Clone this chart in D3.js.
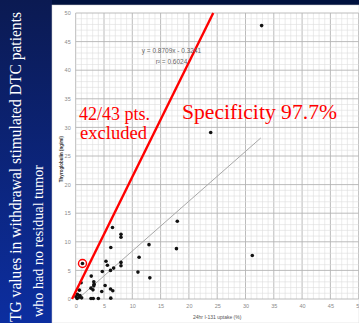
<!DOCTYPE html>
<html>
<head>
<meta charset="utf-8">
<script src="https://cdn.jsdelivr.net/npm/d3@7"></script>
<style>
  html, body { margin: 0; padding: 0; background: #00113e; }
  svg { display: block; }
</style>
</head>
<body>
<div id="chart-container"></div>
<script>
// 24hr I-131 uptake (%) vs stimulated thyroglobulin (ng/ml)
const uptake = [6.5, 8.0, 8.0, 6.2, 12.95, 17.95, 17.8, 11.2, 5.35, 5.6, 8.0, 8.0, 6.7, 6.15, 4.7,
  11.0, 13.1, 2.75, 3.2, 3.25, 3.2, 5.2, 2.7, 3.05, 4.6, 6.15, 6.55, 0.95, 0.65, 0.3, 0.75,
  0.05, 0.6, 1.05, 2.7, 3.1, 4.0, 6.2, 1.2, 32.85, 23.85, 31.2, 0.25];
const thyroglobulin = [12.5, 11.3, 10.8, 9.0, 9.5, 13.6, 8.8, 7.3, 6.6, 5.9, 6.4, 5.8, 5.4, 5.0, 4.8,
  4.7, 3.7, 4.0, 3.0, 2.6, 2.3, 2.35, 1.9, 1.6, 1.3, 1.75, 1.45, 2.85, 1.55, 0.8, 0.6,
  0.4, 0.3, 0.2, 0.1, 0.1, 0.1, 0.15, 6.2, 47.8, 29.1, 7.6, 0.1];
const circledIndex = 38;

const xTicks = [0, 5, 10, 15, 20, 25, 30, 35, 40, 45, 50];
const yTicks = [0, 5, 10, 15, 20, 25, 30, 35, 40, 45, 50];

// linear trendline from the chart: y = 0.8709x - 0.3241
const trendSlope = 0.8709;
const trendIntercept = -0.3241;
const trendX = [0.37, 32.7];

// hand drawn cut-off line
const cutX = [-0.65, 24.3];
const cutY = [0, 50];

const W = 359, H = 323;
const svg = d3.select("#chart-container").append("svg")
  .attr("width", W).attr("height", H);

const defs = svg.append("defs");
const grad = defs.append("linearGradient").attr("id", "sideGrad")
  .attr("x1", 0).attr("y1", 0).attr("x2", 0).attr("y2", 1);
grad.append("stop").attr("offset", "0%").attr("stop-color", "#0b1a52");
grad.append("stop").attr("offset", "100%").attr("stop-color", "#0c2ea0");

svg.append("rect").attr("width", W).attr("height", H).attr("fill", "#00113e");
svg.append("rect").attr("x", 0).attr("y", 0).attr("width", 52).attr("height", H)
  .attr("fill", "url(#sideGrad)");

// white chart panel
svg.append("rect").attr("x", 52).attr("y", 5).attr("width", W - 52).attr("height", H - 5)
  .attr("fill", "#ffffff").attr("stroke", "#d0d0d0").attr("stroke-width", 0.5);

const x = d3.scaleLinear().domain([0, 50]).range([75.7, 358.7]);
const y = d3.scaleLinear().domain([0, 50]).range([299, 13]);

// grid: minor every 1, major every 5
const g = svg.append("g");
const minor = d3.range(0, 51);
g.selectAll("line.vx").data(minor).join("line")
  .attr("x1", d => x(d)).attr("x2", d => x(d))
  .attr("y1", y(0)).attr("y2", y(50))
  .attr("stroke", d => d % 5 === 0 ? "#b4b4b4" : "#dedede")
  .attr("stroke-width", d => d % 5 === 0 ? 0.9 : 0.6);
g.selectAll("line.hy").data(minor).join("line")
  .attr("y1", d => y(d)).attr("y2", d => y(d))
  .attr("x1", x(0)).attr("x2", x(50))
  .attr("stroke", d => d % 5 === 0 ? "#b4b4b4" : "#dedede")
  .attr("stroke-width", d => d % 5 === 0 ? 0.9 : 0.6);

// axes
const xAxis = svg.append("g").attr("transform", `translate(0,${y(0) + 2})`)
  .call(d3.axisBottom(x).tickValues(xTicks).tickSize(0).tickPadding(3));
const yAxis = svg.append("g").attr("transform", `translate(${x(0) - 4},0)`)
  .call(d3.axisLeft(y).tickValues(yTicks).tickSize(0).tickPadding(1));
[xAxis, yAxis].forEach(a => {
  a.select(".domain").remove();
  a.selectAll("text").attr("fill", "#8a8a8a").style("font-family", "Arial, Liberation Sans, sans-serif")
    .style("font-size", "5.5px");
});

svg.append("text").attr("x", (x(0) + x(50)) / 2).attr("y", 319)
  .attr("text-anchor", "middle").attr("fill", "#555")
  .style("font-family", "Liberation Sans, sans-serif").style("font-size", "5px")
  .text("24hr I-131 uptake (%)");
svg.append("text").attr("transform", `translate(63,159) rotate(-90)`)
  .attr("text-anchor", "middle").attr("fill", "#333").attr("font-weight", "bold")
  .style("font-family", "Liberation Sans, sans-serif").style("font-size", "4.5px")
  .text("Thyroglobulin (ng/ml)");

// trendline
const trendLine = d3.line().x(d => x(d)).y(d => y(trendSlope * d + trendIntercept));
svg.append("path").datum(trendX).attr("d", trendLine)
  .attr("fill", "none").attr("stroke", "#a8a8a8").attr("stroke-width", 1);

// points
svg.selectAll("circle.pt").data(uptake).join("circle")
  .attr("cx", d => x(d)).attr("cy", (d, i) => y(thyroglobulin[i]))
  .attr("r", 1.8).attr("fill", "#111");

// red cut-off line
svg.append("path").datum(d3.zip(cutX, cutY))
  .attr("d", d3.line().x(d => x(d[0])).y(d => y(d[1])))
  .attr("fill", "none").attr("stroke", "#ff0000").attr("stroke-width", 2.4);

// red circle around the excluded point
svg.append("circle")
  .attr("cx", x(uptake[circledIndex])).attr("cy", y(thyroglobulin[circledIndex]))
  .attr("r", 4).attr("fill", "none").attr("stroke", "#ff0000").attr("stroke-width", 1.4);

// equation label
const eq = svg.append("g").attr("fill", "#666")
  .style("font-family", "Liberation Sans, sans-serif").style("font-size", "6.5px")
  .attr("text-anchor", "middle");
eq.append("text").attr("x", 171.5).attr("y", 53).text("y = 0.8709x - 0.3241");
eq.append("text").attr("x", 171.5).attr("y", 64).text("r² = 0.6024");

// red annotations
const ann = svg.append("g").attr("fill", "#ff0000")
  .style("font-family", "Liberation Serif, Times New Roman, serif").style("font-size", "19px")
  .attr("lengthAdjust", "spacingAndGlyphs");
ann.append("text").attr("x", 79).attr("y", 120).attr("textLength", 71)
  .attr("lengthAdjust", "spacingAndGlyphs").text("42/43 pts.");
ann.append("text").attr("x", 80).attr("y", 139).attr("textLength", 67)
  .attr("lengthAdjust", "spacingAndGlyphs").text("excluded");
ann.append("text").attr("x", 182).attr("y", 119).attr("textLength", 155)
  .attr("lengthAdjust", "spacingAndGlyphs").style("font-size", "20px").text("Specificity 97.7%");

// side title
const side = svg.append("g").attr("fill", "#ffffff")
  .style("font-family", "Liberation Serif, Times New Roman, serif");
side.append("text").attr("transform", "translate(21,322) rotate(-90)")
  .attr("textLength", 310).attr("lengthAdjust", "spacingAndGlyphs")
  .style("font-size", "16px").text("TG values in withdrawal stimulated DTC patients");
side.append("text").attr("transform", "translate(43,317) rotate(-90)")
  .attr("textLength", 152).attr("lengthAdjust", "spacingAndGlyphs")
  .style("font-size", "15px").text("who had no residual tumor");
</script>
</body>
</html>
